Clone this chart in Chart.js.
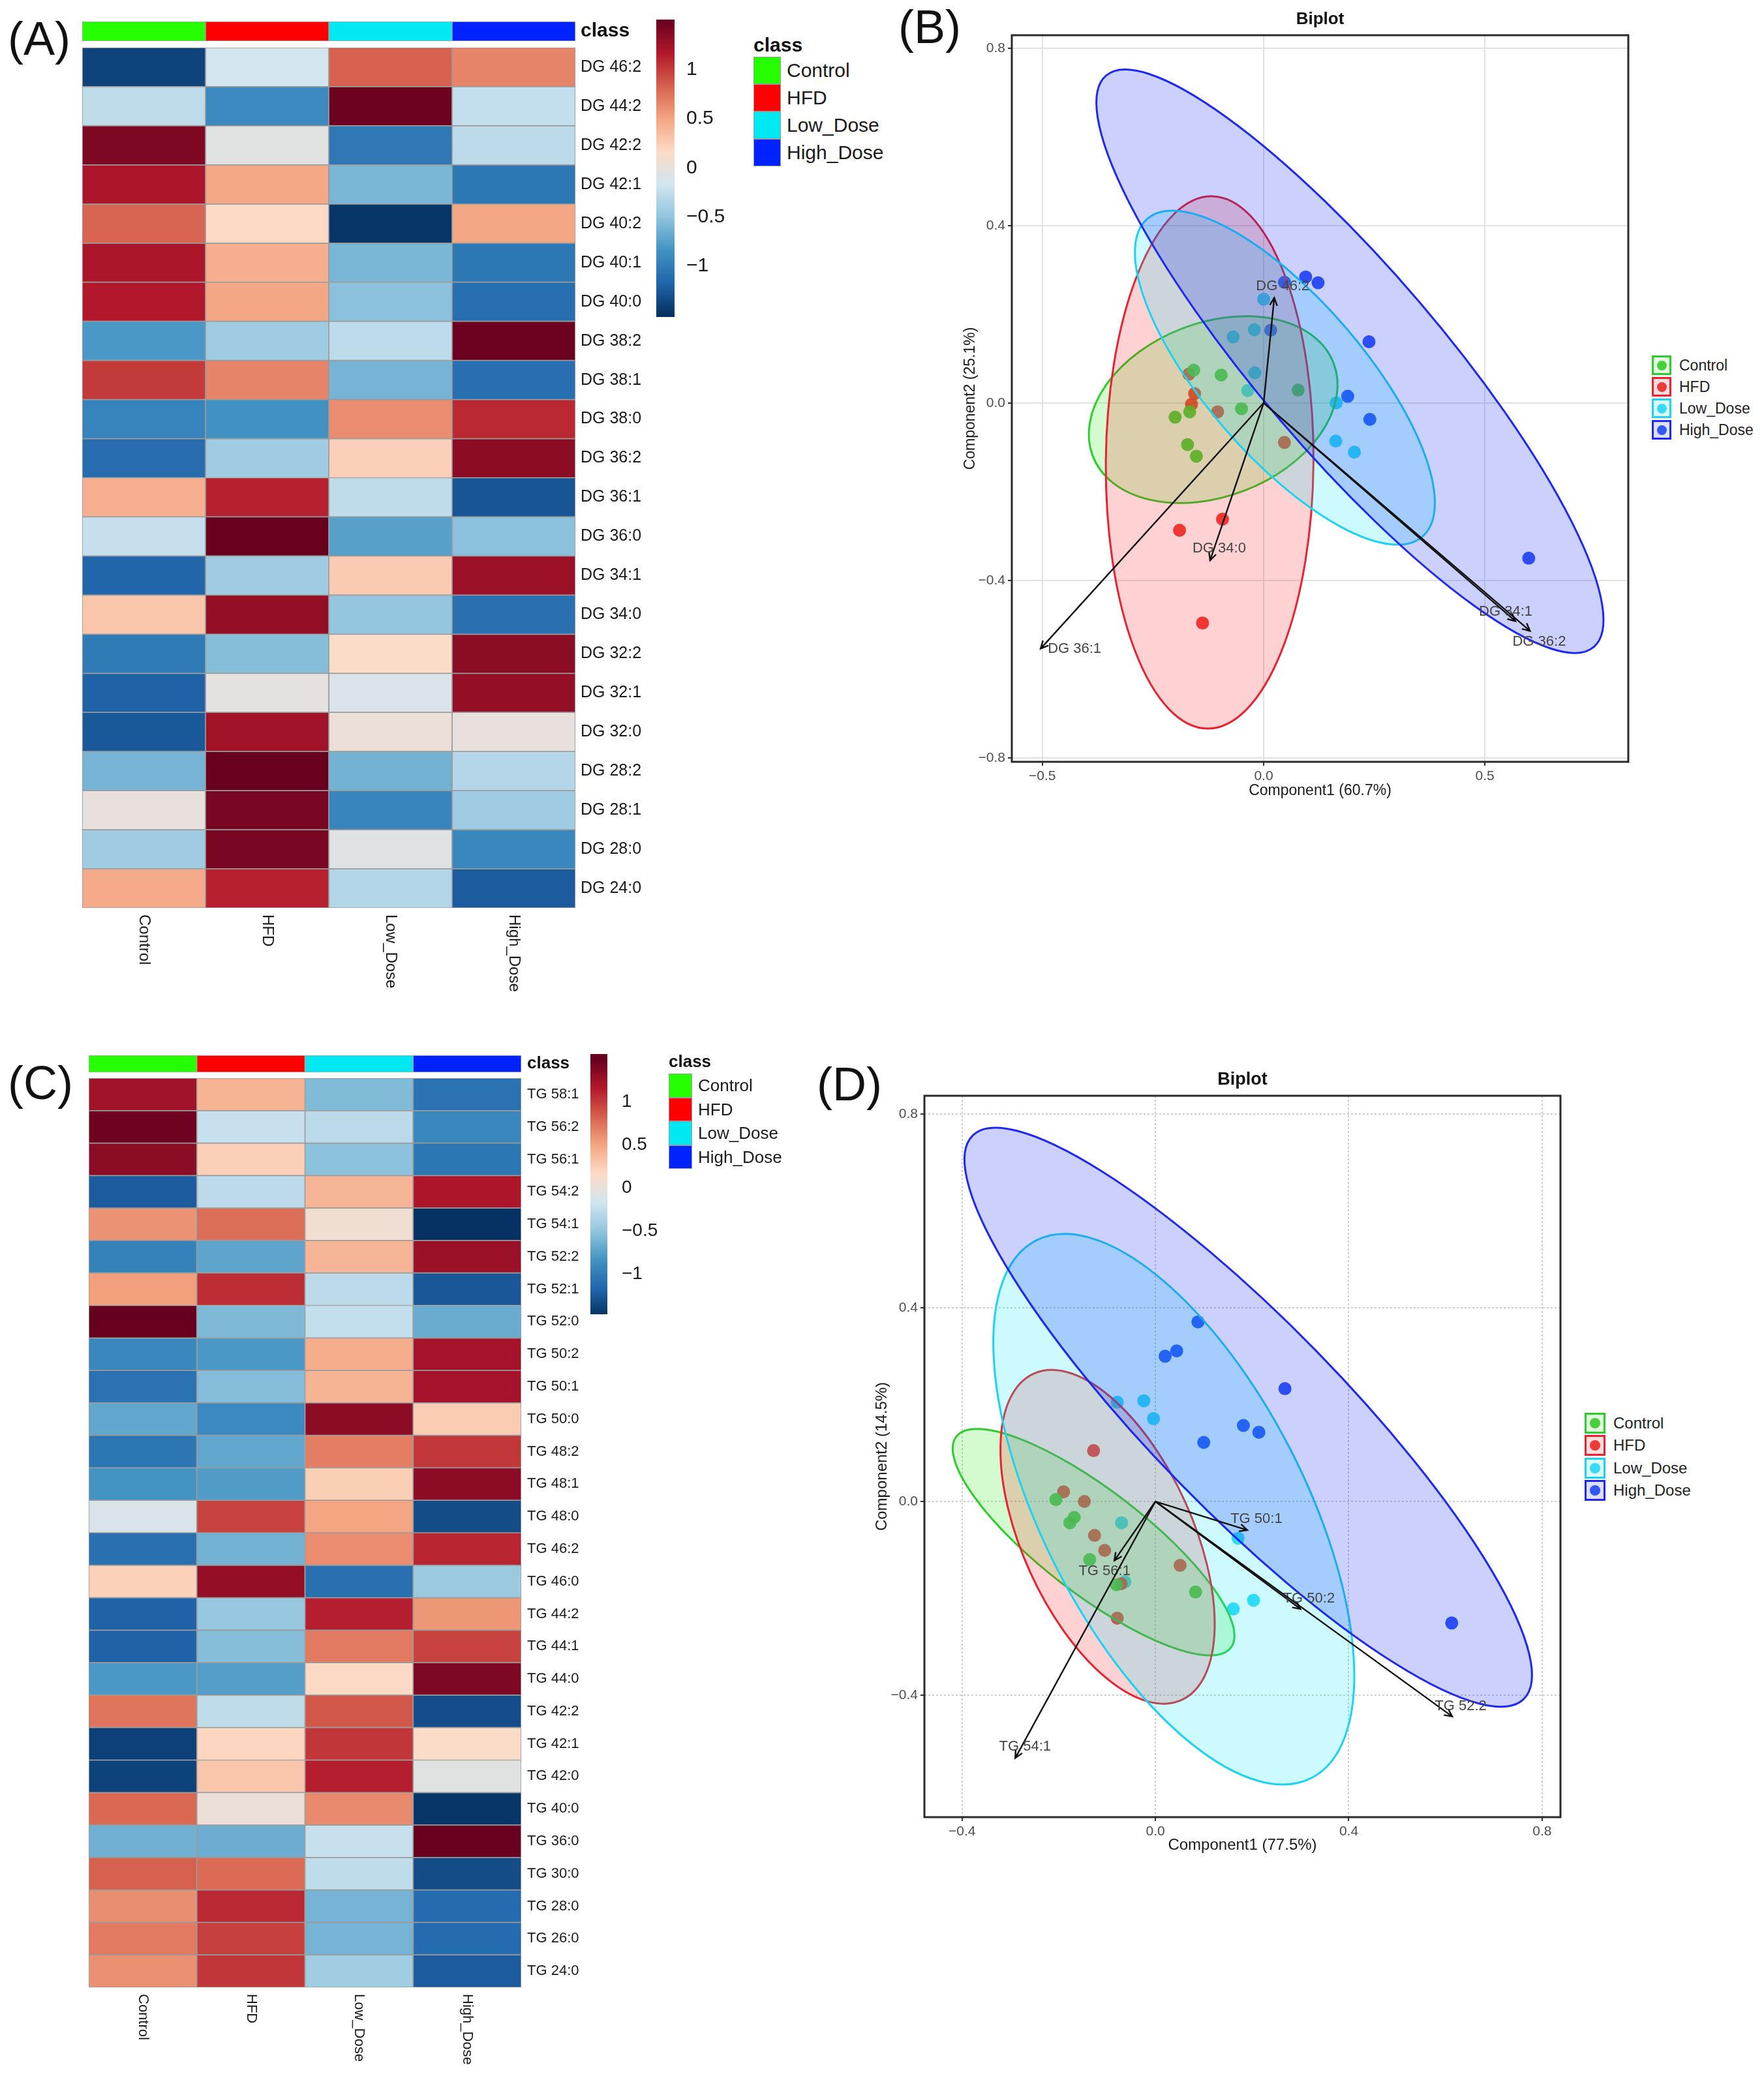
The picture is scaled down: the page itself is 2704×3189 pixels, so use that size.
<!DOCTYPE html>
<html>
<head>
<meta charset="utf-8">
<title>DG / TG heatmaps and biplots</title>
<script src="https://cdn.jsdelivr.net/npm/chart.js@4.4.1/dist/chart.umd.min.js"></script>
<style>
  body { margin: 0; background: #fff; }
  #page { position: relative; width: 2704px; height: 3189px; overflow: hidden; background: #fff;
          font-family: 'Liberation Sans', Arial, sans-serif; color: #1a1a1a; }
  #page canvas, .abs { position: absolute; }
  .tag { font-size: 72px; line-height: 72px; color: #111; }
  .cls-box { box-sizing: border-box; border: 1.5px solid #9a9a9a; }
  .txt { white-space: nowrap; }
  .bp-box { box-sizing: border-box; border: 3px solid; }
  .bp-dot { position: absolute; border-radius: 50%; }
</style>
</head>
<body>
<div id="page">
  <div class="abs tag" style="left:12px;top:23px">(A)</div>
  <div class="abs tag" style="left:1377px;top:5px">(B)</div>
  <div class="abs tag" style="left:12px;top:1624px">(C)</div>
  <div class="abs tag" style="left:1252px;top:1626px">(D)</div>

  <canvas id="dgClass" style="left:124px;top:31px" width="898" height="34"></canvas>
  <canvas id="dgHeat" style="left:124px;top:71px" width="898" height="1471"></canvas>
  <canvas id="dgScale" style="left:1006px;top:30px" width="128" height="456"></canvas>
  <canvas id="dgBiplot" style="left:1474px;top:0px" width="1032" height="1230"></canvas>

  <canvas id="tgClass" style="left:134px;top:1616px" width="795" height="30"></canvas>
  <canvas id="tgHeat" style="left:134px;top:1651px" width="795" height="1536"></canvas>
  <canvas id="tgScale" style="left:905px;top:1616px" width="126" height="399"></canvas>
  <canvas id="tgBiplot" style="left:1338px;top:1600px" width="1064" height="1248"></canvas>
</div>

<script>
// groups and colours
var groups = ['Control', 'HFD', 'Low_Dose', 'High_Dose'];
var classColors = ['#26ff00', '#ff0000', '#00e8f2', '#0022ff'];

// heatmap (A): DG species, group mean z-scores
var dgLipids = ['DG 46:2', 'DG 44:2', 'DG 42:2', 'DG 42:1', 'DG 40:2', 'DG 40:1', 'DG 40:0', 'DG 38:2',
  'DG 38:1', 'DG 38:0', 'DG 36:2', 'DG 36:1', 'DG 36:0', 'DG 34:1', 'DG 34:0', 'DG 32:2', 'DG 32:1',
  'DG 32:0', 'DG 28:2', 'DG 28:1', 'DG 28:0', 'DG 24:0'];
var dgControl = [-1.38, -0.26, 1.40, 1.19, 0.81, 1.20, 1.17, -0.80, 1.01, -0.95, -1.12, 0.43, -0.23, -1.17, 0.30, -1.02, -1.19, -1.25, -0.62, 0.00, -0.43, 0.46];
var dgHFD = [-0.15, -0.91, -0.05, 0.48, 0.17, 0.44, 0.49, -0.43, 0.66, -0.85, -0.43, 1.13, 1.50, -0.43, 1.30, -0.55, -0.02, 1.24, 1.50, 1.42, 1.42, 1.13];
var dgLow = [0.83, 1.48, -1.03, -0.60, -1.47, -0.60, -0.53, -0.27, -0.62, 0.62, 0.24, -0.26, -0.75, 0.27, -0.49, 0.15, -0.10, 0.04, -0.63, -0.94, -0.06, -0.33];
var dgHigh = [0.66, -0.24, -0.28, -1.04, 0.49, -1.04, -1.10, 1.48, -1.10, 1.09, 1.33, -1.27, -0.53, 1.28, -1.09, 1.34, 1.30, 0.00, -0.32, -0.43, -0.92, -1.23];

// heatmap (C): TG species
var tgLipids = ['TG 58:1', 'TG 56:2', 'TG 56:1', 'TG 54:2', 'TG 54:1', 'TG 52:2', 'TG 52:1', 'TG 52:0',
  'TG 50:2', 'TG 50:1', 'TG 50:0', 'TG 48:2', 'TG 48:1', 'TG 48:0', 'TG 46:2', 'TG 46:0', 'TG 44:2',
  'TG 44:1', 'TG 44:0', 'TG 42:2', 'TG 42:1', 'TG 42:0', 'TG 40:0', 'TG 36:0', 'TG 30:0', 'TG 28:0',
  'TG 26:0', 'TG 24:0'];
var tgControl = [1.24, 1.47, 1.34, -1.23, 0.59, -0.97, 0.53, 1.50, -0.92, -1.08, -0.71, -1.05, -0.83, -0.10, -1.09, 0.23, -1.19, -1.19, -0.80, 0.73, -1.40, -1.39, 0.79, -0.64, 0.83, 0.61, 0.71, 0.60];
var tgHFD = [0.41, -0.22, 0.24, -0.28, 0.77, -0.72, 1.07, -0.58, -0.80, -0.56, -0.91, -0.71, -0.78, 0.97, -0.63, 1.30, -0.47, -0.55, -0.76, -0.26, 0.20, 0.30, 0.03, -0.66, 0.78, 1.09, 0.98, 1.03];
var tgLow = [-0.57, -0.28, -0.52, 0.40, 0.07, 0.40, -0.28, -0.24, 0.45, 0.41, 1.33, 0.69, 0.25, 0.50, 0.62, -1.09, 1.14, 0.71, 0.17, 0.87, 1.03, 1.14, 0.63, -0.22, -0.26, -0.62, -0.62, -0.42];
var tgHigh = [-1.08, -0.92, -1.05, 1.19, -1.49, 1.28, -1.26, -0.67, 1.23, 1.23, 0.26, 1.02, 1.33, -1.33, 1.10, -0.46, 0.57, 0.97, 1.40, -1.32, 0.15, -0.05, -1.47, 1.50, -1.33, -1.13, -1.13, -1.23];

// colour key
var colorMin = -1.5, colorMax = 1.5;
var colorTicks = [1, 0.5, 0, -0.5, -1];
var rdbu = ['#053061', '#2166ac', '#4393c3', '#92c5de', '#d1e5f0', '#fddbc7', '#f4a582', '#d6604d', '#b2182b', '#67001f'];

// biplot (B): DG scores per group [comp1, comp2]
var dgScoresControl = [[-0.158, 0.074], [-0.096, 0.063], [0.078, 0.029], [-0.167, -0.020], [-0.200, -0.032], [-0.050, -0.013], [-0.172, -0.094], [-0.152, -0.120]];
var dgScoresHFD = [[-0.169, 0.065], [-0.156, 0.021], [-0.163, -0.003], [-0.104, -0.020], [0.047, -0.089], [-0.093, -0.262], [-0.190, -0.287], [-0.138, -0.496]];
var dgScoresLow = [[0.000, 0.234], [-0.021, 0.165], [-0.069, 0.149], [-0.020, 0.068], [-0.036, 0.028], [0.164, 0.000], [0.163, -0.086], [0.205, -0.111]];
var dgScoresHigh = [[0.047, 0.272], [0.095, 0.284], [0.123, 0.271], [0.016, 0.164], [0.238, 0.138], [0.190, 0.015], [0.240, -0.037], [0.599, -0.350]];
var dgLoadNames = ['DG 36:1', 'DG 34:0', 'DG 46:2', 'DG 34:1', 'DG 36:2'];
var dgLoadX = [-0.504, -0.121, 0.024, 0.569, 0.602];
var dgLoadY = [-0.554, -0.355, 0.237, -0.492, -0.514];
// confidence ellipses: centre, end of major axis, minor/major ratio
var dgEllCenter = [[-0.114, -0.015], [-0.122, -0.134], [0.048, 0.057], [0.195, 0.094]];
var dgEllTip = [[0.158, 0.090], [-0.117, 0.466], [0.359, -0.301], [0.746, -0.550]];
var dgEllRatio = [0.673, 0.39, 0.375, 0.243];
var dgXTicks = [-0.5, 0, 0.5];
var dgYTicks = [-0.8, -0.4, 0, 0.4, 0.8];

// biplot (D): TG scores
var tgScoresControl = [[-0.206, 0.004], [-0.168, -0.033], [-0.177, -0.044], [-0.136, -0.120], [-0.081, -0.172], [0.083, -0.187]];
var tgScoresHFD = [[-0.128, 0.105], [-0.190, 0.020], [-0.147, 0.000], [-0.126, -0.070], [-0.105, -0.101], [0.051, -0.132], [-0.071, -0.170], [-0.079, -0.241]];
var tgScoresLow = [[-0.079, 0.205], [-0.024, 0.208], [-0.004, 0.171], [-0.070, -0.044], [-0.063, -0.166], [0.171, -0.076], [0.161, -0.222], [0.203, -0.204]];
var tgScoresHigh = [[0.088, 0.371], [0.020, 0.300], [0.044, 0.311], [0.268, 0.233], [0.182, 0.157], [0.214, 0.143], [0.100, 0.122], [0.613, -0.251]];
var tgLoadNames = ['TG 50:1', 'TG 50:2', 'TG 52:2', 'TG 56:1', 'TG 54:1'];
var tgLoadX = [0.190, 0.300, 0.614, -0.085, -0.290];
var tgLoadY = [-0.059, -0.222, -0.444, -0.122, -0.530];
var tgEllCenter = [[-0.128, -0.084], [-0.099, -0.073], [0.038, -0.016], [0.192, 0.174]];
var tgEllTip = [[0.156, -0.302], [0.054, -0.410], [0.323, -0.571], [0.762, -0.408]];
var tgEllRatio = [0.30, 0.475, 0.434, 0.241];
var tgXTicks = [-0.4, 0, 0.4, 0.8];
var tgYTicks = [-0.4, 0, 0.4, 0.8];

// styling
var pointColors = ['rgba(55,205,45,0.92)', 'rgba(235,45,40,0.92)', 'rgba(40,215,245,0.92)', 'rgba(35,75,245,0.92)'];
var ellStroke = ['rgb(45,205,45)', 'rgb(230,35,50)', 'rgb(30,210,240)', 'rgb(30,40,240)'];
var ellFill = ['rgba(60,235,40,0.22)', 'rgba(250,30,30,0.2)', 'rgba(0,230,250,0.2)', 'rgba(20,40,240,0.22)'];
var legendTint = ['rgba(60,235,40,0.15)', 'rgba(250,30,30,0.15)', 'rgba(0,230,250,0.15)', 'rgba(20,40,240,0.15)'];
var FONT = "'Liberation Sans', Arial, sans-serif";

Chart.defaults.font.family = FONT;
Chart.defaults.color = '#1a1a1a';

function hexRgb(h) {
  return [parseInt(h.substr(1, 2), 16), parseInt(h.substr(3, 2), 16), parseInt(h.substr(5, 2), 16)];
}

function heatColor(v) {
  var t = (v - colorMin) / (colorMax - colorMin);
  t = Math.max(0, Math.min(1, t));
  var p = t * (rdbu.length - 1);
  var i = Math.min(Math.floor(p), rdbu.length - 2);
  var f = p - i;
  var a = hexRgb(rdbu[i]), b = hexRgb(rdbu[i + 1]);
  var c = a.map(function (x, k) { return Math.round(x + (b[k] - x) * f); });
  return 'rgb(' + c.join(',') + ')';
}

function minusFmt(s) { return String(s).replace('-', '\u2212'); }

function columnLabels(size, gap) {
  return {
    id: 'columnLabels',
    afterDraw: function (chart) {
      var ctx = chart.ctx, xs = chart.scales.x;
      ctx.save();
      ctx.font = size + 'px ' + FONT;
      ctx.fillStyle = '#1a1a1a';
      ctx.textAlign = 'left';
      ctx.textBaseline = 'middle';
      groups.forEach(function (g, i) {
        ctx.save();
        ctx.translate(xs.getPixelForValue(i + 0.5), chart.chartArea.bottom + gap);
        ctx.rotate(Math.PI / 2);
        ctx.fillText(g, 0, 0);
        ctx.restore();
      });
      ctx.restore();
    }
  };
}

function heatmap(id, lipids, cols, o) {
  var datasets = groups.map(function (g, i) {
    return {
      label: g,
      data: lipids.map(function (name, r) { return { x: [i, i + 1], y: name, v: cols[i][r] }; }),
      backgroundColor: function (c) { return c.raw ? heatColor(c.raw.v) : '#ccc'; },
      borderColor: '#9b9b9b',
      borderWidth: 1.2,
      borderSkipped: false,
      grouped: false,
      barPercentage: 1,
      categoryPercentage: 1
    };
  });
  return new Chart(document.getElementById(id), {
    type: 'bar',
    data: { labels: lipids, datasets: datasets },
    options: {
      indexAxis: 'y', responsive: false, animation: false, devicePixelRatio: 1,
      layout: { padding: { left: 2, top: 2, right: 0, bottom: o.bottom } },
      plugins: { legend: { display: false }, tooltip: { enabled: false } },
      scales: {
        x: { type: 'linear', min: 0, max: 4, display: false },
        y: {
          position: 'right',
          grid: { display: false, drawTicks: false }, border: { display: false },
          ticks: { font: { size: o.font }, color: '#1a1a1a', padding: o.pad, autoSkip: false },
          afterFit: function (a) { a.width = o.axisWidth; a.paddingTop = 0; a.paddingBottom = 0; }
        }
      }
    },
    plugins: [columnLabels(o.colFont, o.colGap)]
  });
}

function classBar(id, o) {
  var datasets = groups.map(function (g, i) {
    return {
      label: g,
      data: [{ x: [i, i + 1], y: 'class' }],
      backgroundColor: classColors[i],
      borderColor: '#a8a8a8', borderWidth: 1, borderSkipped: false,
      grouped: false, barPercentage: 1, categoryPercentage: 1
    };
  });
  return new Chart(document.getElementById(id), {
    type: 'bar',
    data: { labels: ['class'], datasets: datasets },
    options: {
      indexAxis: 'y', responsive: false, animation: false, devicePixelRatio: 1,
      layout: { padding: { left: 2, top: 2, right: 0, bottom: 2 } },
      plugins: { legend: { display: false }, tooltip: { enabled: false } },
      scales: {
        x: { type: 'linear', min: 0, max: 4, display: false },
        y: {
          position: 'right',
          grid: { display: false, drawTicks: false }, border: { display: false },
          ticks: { font: { size: o.font, weight: 'bold' }, color: '#111', padding: o.pad },
          afterFit: function (a) { a.width = o.axisWidth; a.paddingTop = 0; a.paddingBottom = 0; }
        }
      }
    }
  });
}

function colorBar(id, cbMin, cbMax, o) {
  return new Chart(document.getElementById(id), {
    type: 'bar',
    data: {
      labels: [''],
      datasets: [{
        data: [[cbMin, cbMax]],
        backgroundColor: function (c) {
          var ch = c.chart, ys = ch.scales.y;
          if (!ch.chartArea || !ys) return '#ccc';
          var g = ch.ctx.createLinearGradient(0, ys.getPixelForValue(colorMin), 0, ys.getPixelForValue(colorMax));
          rdbu.forEach(function (col, i) { g.addColorStop(i / (rdbu.length - 1), col); });
          return g;
        },
        borderWidth: 0, barPercentage: 1, categoryPercentage: 1
      }]
    },
    options: {
      responsive: false, animation: false, devicePixelRatio: 1,
      layout: { padding: 0 },
      plugins: { legend: { display: false }, tooltip: { enabled: false } },
      scales: {
        x: { display: false },
        y: {
          position: 'right', min: cbMin, max: cbMax,
          grid: { display: false, drawTicks: false }, border: { display: false },
          afterBuildTicks: function (a) { a.ticks = colorTicks.map(function (v) { return { value: v }; }); },
          ticks: { font: { size: o.font }, color: '#1a1a1a', padding: o.pad, callback: function (v) { return minusFmt(v); } },
          afterFit: function (a) { a.width = o.axisWidth; a.paddingTop = 0; a.paddingBottom = 0; }
        }
      }
    }
  });
}

function biplotLayers(cfg) {
  return {
    id: 'biplotLayers',
    afterDatasetsDraw: function (chart) {
      var ctx = chart.ctx, xs = chart.scales.x, ys = chart.scales.y, area = chart.chartArea;
      ctx.save();
      ctx.beginPath();
      ctx.rect(area.left, area.top, area.right - area.left, area.bottom - area.top);
      ctx.clip();
      // ellipses over the points
      cfg.ellCenter.forEach(function (c, i) {
        var cx = xs.getPixelForValue(c[0]), cy = ys.getPixelForValue(c[1]);
        var tx = xs.getPixelForValue(cfg.ellTip[i][0]), ty = ys.getPixelForValue(cfg.ellTip[i][1]);
        var a = Math.hypot(tx - cx, ty - cy), ang = Math.atan2(ty - cy, tx - cx);
        ctx.beginPath();
        ctx.ellipse(cx, cy, a, a * cfg.ellRatio[i], ang, 0, 2 * Math.PI);
        ctx.fillStyle = ellFill[i];
        ctx.fill();
        ctx.lineWidth = 3;
        ctx.strokeStyle = ellStroke[i];
        ctx.stroke();
      });
      // loading arrows
      var x0 = xs.getPixelForValue(0), y0 = ys.getPixelForValue(0);
      ctx.strokeStyle = '#111';
      ctx.lineWidth = 2.4;
      ctx.font = '22px ' + FONT;
      ctx.fillStyle = '#444';
      ctx.textAlign = 'center';
      ctx.textBaseline = 'middle';
      cfg.loadX.forEach(function (lx, i) {
        var x1 = xs.getPixelForValue(lx), y1 = ys.getPixelForValue(cfg.loadY[i]);
        var ang = Math.atan2(y1 - y0, x1 - x0), h = 13;
        ctx.beginPath();
        ctx.moveTo(x0, y0);
        ctx.lineTo(x1, y1);
        ctx.moveTo(x1 - h * Math.cos(ang - 0.45), y1 - h * Math.sin(ang - 0.45));
        ctx.lineTo(x1, y1);
        ctx.lineTo(x1 - h * Math.cos(ang + 0.45), y1 - h * Math.sin(ang + 0.45));
        ctx.stroke();
        ctx.fillText(cfg.loadNames[i], x1 + cfg.labelOffset[i][0], y1 + cfg.labelOffset[i][1]);
      });
      ctx.restore();
    },
    afterDraw: function (chart) {
      var ctx = chart.ctx, area = chart.chartArea;
      ctx.save();
      ctx.strokeStyle = '#2b2b2b';
      ctx.lineWidth = 3;
      ctx.strokeRect(area.left, area.top, area.right - area.left, area.bottom - area.top);
      ctx.font = 'bold ' + cfg.headFont + 'px ' + FONT;
      ctx.fillStyle = '#111';
      ctx.textAlign = 'center';
      ctx.textBaseline = 'middle';
      ctx.fillText('Biplot', (area.left + area.right) / 2, area.top - 24);
      ctx.restore();
    }
  };
}

function biplot(id, cfg) {
  var datasets = cfg.scores.map(function (pts, i) {
    return {
      label: groups[i],
      data: pts.map(function (p) { return { x: p[0], y: p[1] }; }),
      pointRadius: 10, pointHoverRadius: 10, pointBorderWidth: 0,
      backgroundColor: pointColors[i]
    };
  });
  var grid = { color: cfg.gridColor, lineWidth: 2, drawTicks: true, tickLength: 6, tickColor: '#333', tickWidth: 2 };
  var tickFmt = function (v) { return minusFmt(Number(v).toFixed(1)); };
  return new Chart(document.getElementById(id), {
    type: 'scatter',
    data: { datasets: datasets },
    options: {
      responsive: false, animation: false, devicePixelRatio: 1,
      layout: { padding: { left: 0, top: cfg.top, right: 6, bottom: 0 } },
      plugins: { legend: { display: false }, tooltip: { enabled: false } },
      scales: {
        x: {
          type: 'linear', min: cfg.xMin, max: cfg.xMax,
          afterBuildTicks: function (a) { a.ticks = cfg.xTicks.map(function (v) { return { value: v }; }); },
          grid: grid, border: { display: false, dash: cfg.dash },
          ticks: { font: { size: 21 }, color: '#4d4d4d', padding: 4, callback: tickFmt },
          title: { display: true, text: cfg.xTitle, font: { size: cfg.titleFont }, color: '#1a1a1a', padding: { top: 0, bottom: 4 } },
          afterFit: function (a) { a.height = 62; a.paddingLeft = 0; a.paddingRight = 0; }
        },
        y: {
          type: 'linear', min: cfg.yMin, max: cfg.yMax,
          afterBuildTicks: function (a) { a.ticks = cfg.yTicks.map(function (v) { return { value: v }; }); },
          grid: grid, border: { display: false, dash: cfg.dash },
          ticks: { font: { size: 21 }, color: '#4d4d4d', padding: 4, callback: tickFmt },
          title: { display: true, text: cfg.yTitle, font: { size: cfg.titleFont }, color: '#1a1a1a', padding: { top: 0, bottom: 0 } },
          afterFit: function (a) { a.width = cfg.yAxisWidth; a.paddingTop = 0; a.paddingBottom = 0; }
        }
      }
    },
    plugins: [biplotLayers(cfg)]
  });
}

function classLegend(left, titleTop, boxTop, boxW, boxH, font, titleFont) {
  var page = document.getElementById('page');
  var t = document.createElement('div');
  t.className = 'abs txt';
  t.style.cssText = 'left:' + left + 'px;top:' + titleTop + 'px;font-size:' + titleFont + 'px;line-height:' + Math.round(titleFont * 1.2) + 'px;font-weight:bold;color:#111';
  t.textContent = 'class';
  page.appendChild(t);
  groups.forEach(function (g, i) {
    var b = document.createElement('div');
    b.className = 'abs cls-box';
    b.style.cssText = 'left:' + left + 'px;top:' + (boxTop + i * boxH) + 'px;width:' + boxW + 'px;height:' + boxH + 'px;background:' + classColors[i];
    page.appendChild(b);
    var l = document.createElement('div');
    l.className = 'abs txt';
    l.style.cssText = 'left:' + (left + boxW + 9) + 'px;top:' + (boxTop + i * boxH) + 'px;font-size:' + font + 'px;line-height:' + boxH + 'px';
    l.textContent = g;
    page.appendChild(l);
  });
}

function biplotLegend(left, top, box, step, font) {
  var page = document.getElementById('page');
  groups.forEach(function (g, i) {
    var y = top + i * step;
    var b = document.createElement('div');
    b.className = 'abs bp-box';
    b.style.cssText = 'left:' + left + 'px;top:' + y + 'px;width:' + box + 'px;height:' + box + 'px;border-color:' + ellStroke[i] + ';background:' + legendTint[i];
    var d = document.createElement('div');
    var ds = Math.round(box * 0.5);
    d.className = 'bp-dot';
    d.style.cssText = 'width:' + ds + 'px;height:' + ds + 'px;left:' + ((box - 6 - ds) / 2) + 'px;top:' + ((box - 6 - ds) / 2) + 'px;background:' + pointColors[i];
    b.appendChild(d);
    page.appendChild(b);
    var l = document.createElement('div');
    l.className = 'abs txt';
    l.style.cssText = 'left:' + (left + box + 12) + 'px;top:' + y + 'px;font-size:' + font + 'px;line-height:' + box + 'px;color:#222';
    l.textContent = g;
    page.appendChild(l);
  });
}

// panel A
classBar('dgClass', { font: 30, pad: 8, axisWidth: 140 });
heatmap('dgHeat', dgLipids, [dgControl, dgHFD, dgLow, dgHigh], { bottom: 150, font: 25, pad: 8, axisWidth: 140, colFont: 24, colGap: 10 });
colorBar('dgScale', -1.52, 1.51, { font: 30, pad: 18, axisWidth: 100 });
classLegend(1155, 51, 87, 42, 42, 30, 30);

// panel B
biplot('dgBiplot', {
  scores: [dgScoresControl, dgScoresHFD, dgScoresLow, dgScoresHigh],
  ellCenter: dgEllCenter, ellTip: dgEllTip, ellRatio: dgEllRatio,
  loadNames: dgLoadNames, loadX: dgLoadX, loadY: dgLoadY,
  labelOffset: [[52, 0], [14, -18], [13, -18], [-15, -14], [14, 17]],
  xMin: -0.569, xMax: 0.824, yMin: -0.809, yMax: 0.829,
  xTicks: dgXTicks, yTicks: dgYTicks,
  xTitle: 'Component1 (60.7%)', yTitle: 'Component2 (25.1%)',
  titleFont: 23, headFont: 26, top: 54, yAxisWidth: 77,
  gridColor: '#e2e2e2', dash: []
});
biplotLegend(2532, 545, 30, 33, 23);

// panel C
classBar('tgClass', { font: 26, pad: 9, axisWidth: 130 });
heatmap('tgHeat', tgLipids, [tgControl, tgHFD, tgLow, tgHigh], { bottom: 140, font: 22, pad: 9, axisWidth: 130, colFont: 22, colGap: 10 });
colorBar('tgScale', -1.47, 1.56, { font: 28, pad: 22, axisWidth: 100 });
classLegend(1025, 1612, 1646, 36, 36.5, 26, 26);

// panel D
biplot('tgBiplot', {
  scores: [tgScoresControl, tgScoresHFD, tgScoresLow, tgScoresHigh],
  ellCenter: tgEllCenter, ellTip: tgEllTip, ellRatio: tgEllRatio,
  loadNames: tgLoadNames, loadX: tgLoadX, loadY: tgLoadY,
  labelOffset: [[14, -17], [13, -16], [13, -16], [-15, 16], [15, -18]],
  xMin: -0.478, xMax: 0.838, yMin: -0.652, yMax: 0.838,
  xTicks: tgXTicks, yTicks: tgYTicks,
  xTitle: 'Component1 (77.5%)', yTitle: 'Component2 (14.5%)',
  titleFont: 24, headFont: 27, top: 80, yAxisWidth: 79,
  gridColor: '#cfcfcf', dash: [3, 3]
});
biplotLegend(2429, 2166, 32, 34.3, 24);
</script>
</body>
</html>
